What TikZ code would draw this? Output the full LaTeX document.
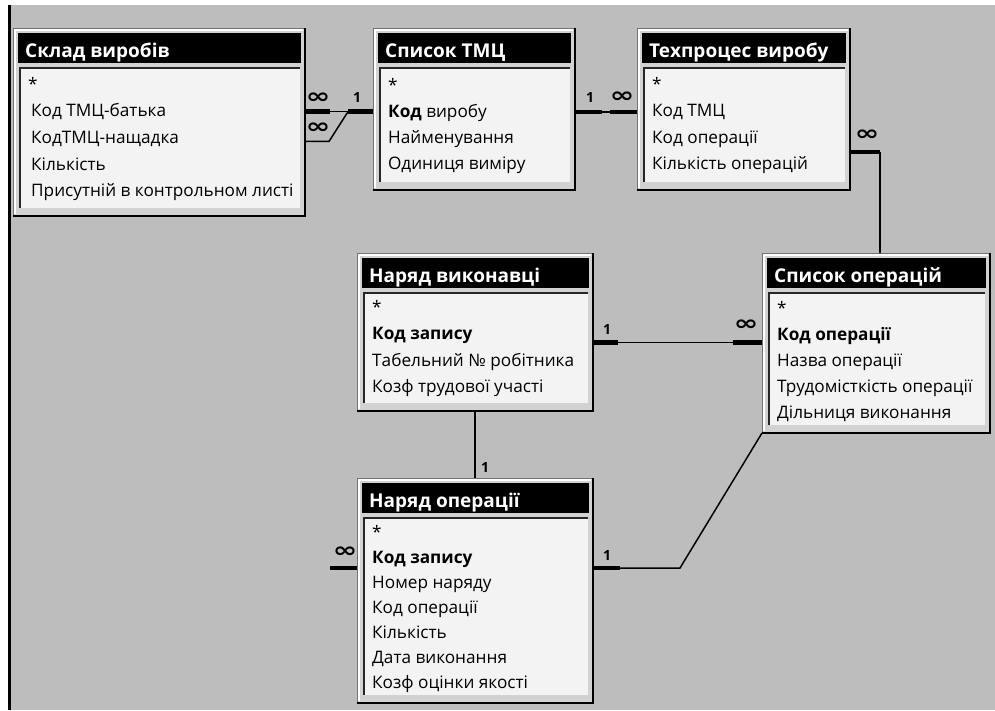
\documentclass[tikz,border=0pt]{standalone}
\usepackage{fontspec}
\setmainfont{Open Sans}
\newfontfamily\symfont{DejaVu Sans}

\definecolor{bggrey}{HTML}{BDBDBD}
\definecolor{framegrey}{HTML}{D2D2D2}
\definecolor{bodywhite}{HTML}{F3F3F3}

\tikzset{
  tabframe/.style={fill=framegrey, draw=black!55, line width=0.8pt, inner sep=0pt, outer sep=0pt, anchor=north west},
  tabtitle/.style={text=white, font=\bfseries\fontsize{19}{21}\selectfont, inner sep=0pt, anchor=base west},
  field/.style={font=\fontsize{17.2}{20}\selectfont, inner sep=0pt, anchor=base west},
  stub/.style={line width=4.5pt},
  link/.style={line width=1.5pt},
  card/.style={font=\bfseries\fontsize{14}{14}\selectfont, inner sep=1pt},
}

\newcommand{\infsym}{\scalebox{1.4}[1]{\symfont\bfseries\fontsize{21}{21}\selectfont ∞}}

% #1 name, #2 x, #3 y, #4 width, #5 height, #6 first row, #7 row pitch, #8 title, #9 rows
\newcommand{\dbtable}[9]{%
  \node[tabframe, minimum width=#4, minimum height=#5] (#1) at (#2,#3) {};
  \draw[white, line width=1.2pt] ([shift={(2,-2)}]#1.south west) -- ([shift={(2,2)}]#1.north west) -- ([shift={(-2,2)}]#1.north east);
  \draw[line width=2.5pt] (#1.south west) -- (#1.south east) -- (#1.north east);
  \fill[black] ([shift={(5,5)}]#1.north west) rectangle ([shift={(-4,35)}]#1.north east);
  \node[tabtitle] (#1-t) at ([shift={(12,29)}]#1.north west) {#8};
  \fill[bodywhite] ([shift={(7,40)}]#1.north west) rectangle ([shift={(-5,-8)}]#1.south east);
  \draw[black!85, line width=2pt] ([shift={(7,-8)}]#1.south west) -- ([shift={(7,40)}]#1.north west) -- ([shift={(-5,40)}]#1.north east);
  \foreach \r [count=\i] in {#9}
    \node[field] (#1-\i) at ([shift={(15,{#6+(\i-1)*#7})}]#1.north west) {\r};
}

\begin{document}
\begin{tikzpicture}[x=1pt, y=-1pt]
  \useasboundingbox (0,0) rectangle (995,710);
  \fill[white] (0,0) rectangle (995,710);
  \fill[bggrey] (8,5) rectangle (995,710);
  \draw[line width=2.5pt] (9.5,5) -- (9.5,710);

  \dbtable{sklad}{13}{28}{292}{188}{62}{26.7}{Склад виробів}
    {*, \hspace{3pt}Код ТМЦ-батька, \hspace{3pt}КодТМЦ-нащадка, \hspace{3pt}Кількість, \hspace{3pt}Присутній в контрольном листі}
  \dbtable{spysok}{373}{28}{202}{162}{63}{26}{Список ТМЦ}
    {*, \textbf{Код} виробу, Найменування, Одиниця виміру}
  \dbtable{tech}{637}{28}{213}{162}{62}{26.5}{Техпроцес виробу}
    {*, Код ТМЦ, Код операції, Кількість операцій}
  \dbtable{vyk}{357}{253}{236}{158}{60}{26.5}{Наряд виконавці}
    {*, \textbf{Код запису}, Табельний № робітника, Козф трудової участі}
  \dbtable{oper}{762}{253}{228}{180}{61}{26}{Список операцій}
    {*, \textbf{Код операції}, Назва операції, Трудомісткість операції, Дільниця виконання}
  \dbtable{naryad}{357}{478}{236}{225}{60}{25}{Наряд операції}
    {*, \textbf{Код запису}, Номер наряду, Код операції, Кількість, Дата виконання, Козф оцінки якості}

  % Склад виробів -- Список ТМЦ
  \path (sklad.east |- sklad-2.base) ++(0,-5) coordinate (a1) ++(25,0) coordinate (a2);
  \path (spysok.west |- a1) coordinate (b1) ++(-25,0) coordinate (j1);
  \draw[stub] (a1) -- (a2);
  \draw[link] (a2) -- (j1);
  \draw[stub] (j1) -- (b1);
  \path (sklad.east |- sklad-3.base) ++(0,-2) coordinate (a3) ++(24,0) coordinate (a4);
  \draw[link] (a3) -- (a4) -- (j1);
  \node[card] (m1) at ([shift={(13,-14)}]a1) {\infsym};
  \node[card] (m2) at ([shift={(13,-13)}]a3) {\infsym};
  \node[card] (o1) at ([shift={(9,-14)}]j1) {1};

  % Список ТМЦ -- Техпроцес виробу
  \path (spysok.east |- spysok-2.base) ++(0,-5) coordinate (a5) ++(27,0) coordinate (a6);
  \path (tech.west |- a5) coordinate (b5) ++(-27,0) coordinate (b6);
  \draw[stub] (a5) -- (a6);
  \draw[link] (a6) -- (b6);
  \draw[stub] (b6) -- (b5);
  \node[card] (o2) at ([shift={(15,-15)}]a5) {1};
  \node[card] (m3) at ([shift={(-15,-15)}]b5) {\infsym};

  % Техпроцес виробу -- Список операцій
  \path (tech.east |- tech-3.base) ++(0,9) coordinate (a7) ++(30,0) coordinate (a8);
  \draw[stub] (a7) -- (a8);
  \draw[link] (a8) -- (a8 |- oper.north);
  \node[card] (m4) at ([shift={(17,-17)}]a7) {\infsym};

  % Наряд виконавці -- Список операцій
  \path (vyk.east |- vyk-2.base) ++(0,3) coordinate (a9) ++(25,0) coordinate (a10);
  \path (oper.west |- a9) coordinate (b9) ++(-29,0) coordinate (b10);
  \draw[stub] (a9) -- (a10);
  \draw[link] (a10) -- (b10);
  \draw[stub] (b10) -- (b9);
  \node[card] (o3) at ([shift={(14,-13)}]a9) {1};
  \node[card] (m5) at ([shift={(-16,-17)}]b9) {\infsym};

  % Наряд виконавці -- Наряд операції
  \draw[link] (vyk.south) -- (naryad.north);
  \node[card] (o4) at ([shift={(10,-11)}]naryad.north) {1};

  % Наряд операції -- Список операцій
  \path (naryad.east |- naryad-2.base) ++(0,5) coordinate (a11) ++(27,0) coordinate (a12) ++(60,0) coordinate (a13);
  \draw[stub] (a11) -- (a12);
  \draw[link] (a12) -- (a13) -- (oper.south west);
  \node[card] (o5) at ([shift={(14,-13)}]a11) {1};

  % вільний кінець зліва
  \path (naryad.west |- a11) coordinate (b11) ++(-27,0) coordinate (b12);
  \draw[stub] (b12) -- (b11);
  \node[card] (m6) at ([shift={(-12,-16)}]b11) {\infsym};
\end{tikzpicture}
\end{document}
